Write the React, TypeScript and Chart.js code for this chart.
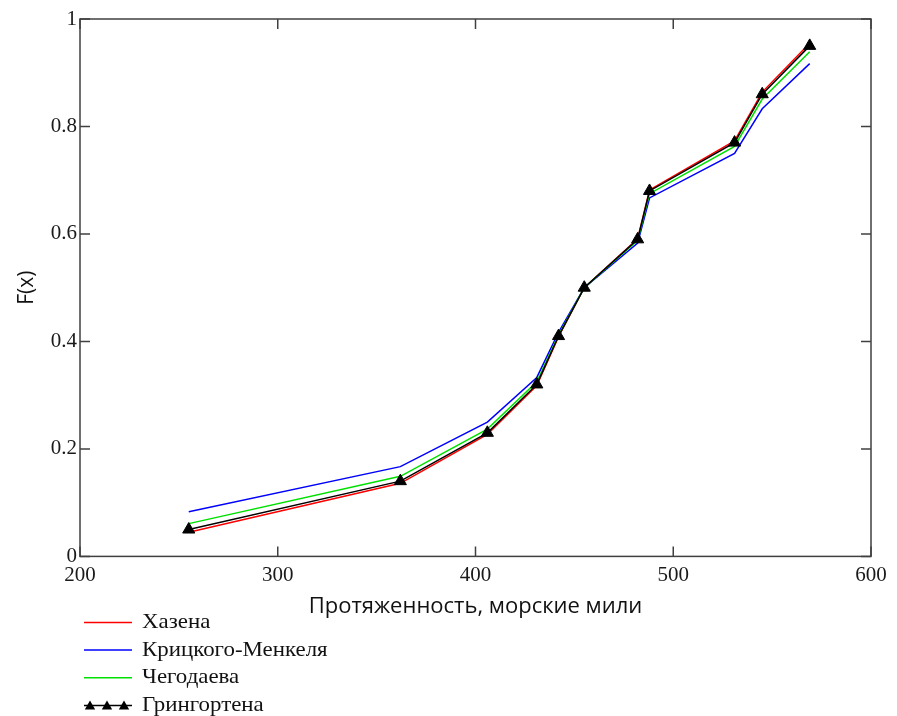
import React, { useEffect, useRef } from 'react';
import { Chart, registerables } from 'chart.js';

Chart.register(...registerables);

// ---- data ----
const distances = [255, 362, 406, 431, 442, 455, 482, 488, 531, 545, 569];
const hazen = [0.045, 0.136, 0.227, 0.318, 0.409, 0.5, 0.591, 0.682, 0.773, 0.864, 0.955];
const kritskyMenkel = [0.083, 0.167, 0.25, 0.333, 0.417, 0.5, 0.583, 0.667, 0.75, 0.833, 0.917];
const chegodaev = [0.061, 0.149, 0.237, 0.325, 0.412, 0.5, 0.588, 0.675, 0.763, 0.851, 0.939];
const gringorten = [0.05, 0.14, 0.23, 0.32, 0.41, 0.5, 0.59, 0.68, 0.77, 0.86, 0.95];

const seriesLabels = ['Хазена', 'Крицкого-Менкеля', 'Чегодаева', 'Грингортена'];
const seriesColors = ['#ff0000', '#0000ff', '#00e000', '#000000'];

const xTicks = [200, 300, 400, 500, 600];
const yTicks = [0, 0.2, 0.4, 0.6, 0.8, 1];
const xTitle = 'Протяженность, морские мили';
const yTitle = 'F(x)';

const SERIF = "'Liberation Serif', 'Times New Roman', serif";
const SANS = "'Open Sans', 'DejaVu Sans', sans-serif";
const FRAME = '#404040';

const toPoints = (ys: number[]) => distances.map((x, i) => ({ x, y: ys[i] }));

const framePlugin = {
  id: 'mathcadFrame',
  afterDatasetsDraw(chart: any) {
    const { ctx, chartArea: a, scales } = chart;
    const xs = scales.x;
    const ys = scales.y;
    const tl = 10;
    ctx.save();
    ctx.strokeStyle = FRAME;
    ctx.lineWidth = 1.5;
    ctx.strokeRect(a.left, a.top, a.right - a.left, a.bottom - a.top);
    ctx.beginPath();
    xTicks.forEach((v) => {
      const px = xs.getPixelForValue(v);
      ctx.moveTo(px, a.bottom);
      ctx.lineTo(px, a.bottom - tl);
      ctx.moveTo(px, a.top);
      ctx.lineTo(px, a.top + tl);
    });
    yTicks.forEach((v) => {
      const py = ys.getPixelForValue(v);
      ctx.moveTo(a.left, py);
      ctx.lineTo(a.left + tl, py);
      ctx.moveTo(a.right, py);
      ctx.lineTo(a.right - tl, py);
    });
    ctx.stroke();
    ctx.restore();
  },
};

const legendPlugin = {
  id: 'mathcadLegend',
  afterDraw(chart: any) {
    const { ctx, chartArea: a } = chart;
    const x0 = a.left + 4;
    const x1 = a.left + 52;
    const tx = a.left + 62;
    const firstY = a.bottom + 66;
    const step = 27.7;
    ctx.save();
    ctx.font = `21px ${SERIF}`;
    ctx.textBaseline = 'middle';
    ctx.textAlign = 'left';
    chart.data.datasets.forEach((ds: any, i: number) => {
      const y = firstY + i * step;
      ctx.strokeStyle = ds.borderColor;
      ctx.lineWidth = 1.5;
      ctx.beginPath();
      ctx.moveTo(x0, y);
      ctx.lineTo(x1, y);
      ctx.stroke();
      if (ds.pointRadius > 0) {
        ctx.fillStyle = ds.borderColor;
        [x0 + 6, x0 + 23, x0 + 40].forEach((cx) => {
          const r = 6;
          ctx.beginPath();
          ctx.moveTo(cx, y - r + 1);
          ctx.lineTo(cx + r * 0.866, y + r * 0.5 + 1);
          ctx.lineTo(cx - r * 0.866, y + r * 0.5 + 1);
          ctx.closePath();
          ctx.fill();
        });
      }
      ctx.fillStyle = '#111';
      ctx.save();
      ctx.translate(tx, y);
      ctx.scale(1.09, 1);
      ctx.fillText(ds.label, 0, 0);
      ctx.restore();
    });
    ctx.restore();
  },
};

export default function App() {
  const canvasRef = useRef<HTMLCanvasElement | null>(null);

  useEffect(() => {
    const canvas = canvasRef.current;
    if (!canvas) return;
    const lineDs = (idx: number, ys: number[], order: number) => ({
      label: seriesLabels[idx],
      data: toPoints(ys),
      borderColor: seriesColors[idx],
      backgroundColor: seriesColors[idx],
      borderWidth: 1.5,
      pointRadius: 0,
      tension: 0,
      fill: false,
      order,
    });
    const chart = new Chart(canvas, {
      type: 'line',
      data: {
        datasets: [
          lineDs(0, hazen, 4),
          lineDs(1, kritskyMenkel, 3),
          lineDs(2, chegodaev, 2),
          {
            ...lineDs(3, gringorten, 1),
            pointRadius: 7,
            pointStyle: 'triangle',
            pointBackgroundColor: '#000',
            pointBorderColor: '#000',
            pointBorderWidth: 1,
          },
        ],
      },
      options: {
        animation: false,
        responsive: false,
        maintainAspectRatio: false,
        layout: { padding: { left: 0, right: 26, top: 19, bottom: 96 } },
        plugins: {
          legend: { display: false },
          tooltip: { enabled: false },
        },
        scales: {
          x: {
            type: 'linear',
            min: 200,
            max: 600,
            afterBuildTicks: (s: any) => {
              s.ticks = xTicks.map((v) => ({ value: v }));
            },
            grid: { display: false, drawTicks: false },
            border: { display: false },
            ticks: {
              font: { family: SERIF, size: 21 },
              color: '#1a1a1a',
              padding: 6,
              maxRotation: 0,
              callback: (v: any) => String(v),
            },
            title: {
              display: true,
              text: xTitle,
              font: { family: SANS, size: 22 },
              color: '#111',
              padding: { top: 0, bottom: 0 },
            },
          },
          y: {
            type: 'linear',
            min: 0,
            max: 1,
            afterBuildTicks: (s: any) => {
              s.ticks = yTicks.map((v) => ({ value: v }));
            },
            afterFit: (s: any) => {
              s.width = 80;
            },
            grid: { display: false, drawTicks: false },
            border: { display: false },
            ticks: {
              font: { family: SERIF, size: 21 },
              color: '#1a1a1a',
              padding: 3,
              callback: (v: any) => String(Math.round(v * 10) / 10),
            },
            title: {
              display: true,
              text: yTitle,
              font: { family: SANS, size: 21 },
              color: '#111',
              padding: { top: 14, bottom: 14 },
            },
          },
        },
      },
      plugins: [framePlugin, legendPlugin],
    } as any);
    return () => chart.destroy();
  }, []);

  return (
    <div style={{ position: 'absolute', left: 0, top: 0, width: 897, height: 716, background: '#fff' }}>
      <canvas ref={canvasRef} width={897} height={716} style={{ display: 'block' }} />
    </div>
  );
}
